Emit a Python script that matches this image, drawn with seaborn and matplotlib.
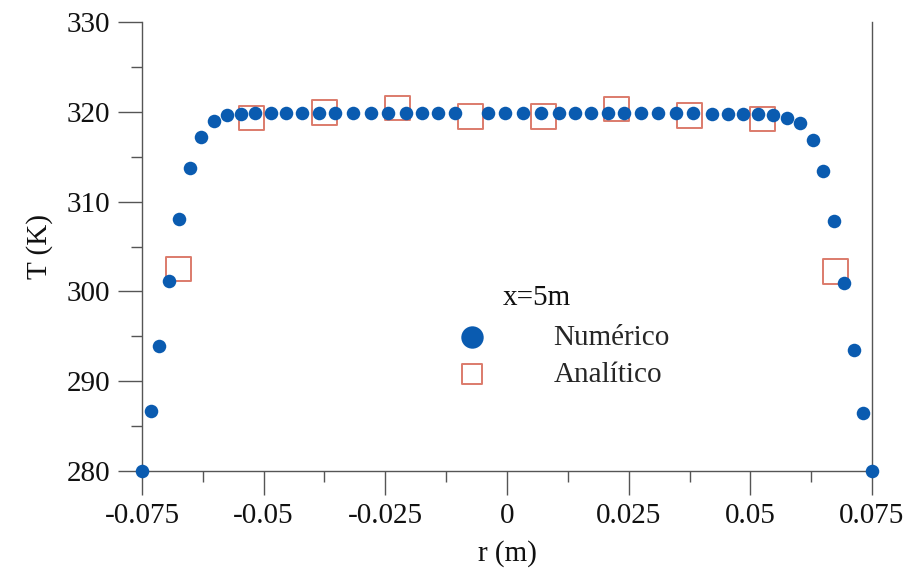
import matplotlib
matplotlib.use("Agg")
import matplotlib.pyplot as plt
import seaborn as sns
import pandas as pd
from matplotlib.ticker import MultipleLocator, FixedLocator

# ---- data ----
r_num = [-0.075, -0.0731, -0.0715, -0.0694, -0.0674, -0.0651, -0.0629, -0.0602,
         -0.0575, -0.0547, -0.0518, -0.0485, -0.0454, -0.0421, -0.0386, -0.0353,
         -0.0316, -0.0279, -0.0245, -0.0208, -0.0175, -0.0142, -0.0107, -0.0039,
         -0.0004, 0.0033, 0.0070, 0.0107, 0.0140, 0.0173, 0.0208, 0.0240,
         0.0275, 0.0310, 0.0347, 0.0382, 0.0421, 0.0454, 0.0485, 0.0516,
         0.0547, 0.0575, 0.0602, 0.0629, 0.0649, 0.0672, 0.0692, 0.0713,
         0.0731, 0.075]
T_num = [280.0, 286.7, 293.9, 301.2, 308.1, 313.7, 317.2, 319.0,
         319.6, 319.8, 319.9, 319.9, 319.9, 319.9, 319.9, 319.9,
         319.9, 319.9, 319.9, 319.9, 319.9, 319.9, 319.9, 319.9,
         319.9, 319.9, 319.9, 319.9, 319.9, 319.9, 319.9, 319.9,
         319.9, 319.9, 319.9, 319.9, 319.8, 319.8, 319.7, 319.7,
         319.6, 319.3, 318.7, 316.9, 313.4, 307.8, 300.9, 293.5,
         286.5, 280.0]
r_ana = [-0.0675, -0.0525, -0.0375, -0.0225, -0.0075, 0.0075, 0.0225, 0.0375, 0.0525, 0.0675]
T_ana = [302.5, 319.3, 319.9, 320.4, 319.5, 319.5, 320.3, 319.6, 319.2, 302.2]

x_ticks = [-0.075, -0.05, -0.025, 0, 0.025, 0.05, 0.075]
x_tick_labels = ["-0.075", "-0.05", "-0.025", "0", "0.025", "0.05", "0.075"]
y_ticks = [280, 290, 300, 310, 320, 330]
y_tick_labels = ["280", "290", "300", "310", "320", "330"]

legend_title = "x=5m"
label_num = "Numérico"
label_ana = "Analítico"

df_num = pd.DataFrame({"r": r_num, "T": T_num})
df_ana = pd.DataFrame({"r": r_ana, "T": T_ana})

sns.set_style("white")
plt.rcParams["font.family"] = ["Liberation Serif", "DejaVu Serif"]
plt.rcParams["mathtext.default"] = "regular"

fig = plt.figure(figsize=(9.06, 5.82), dpi=100)
ax = fig.add_axes([0.1567, 0.1907, 0.8058, 0.7715])

blue = "#0a5bb0"
red = "#dc7b6b"

sns.scatterplot(data=df_ana, x="r", y="T", ax=ax, marker="s", s=310,
                color=red, linewidth=1.4, label=label_ana, zorder=3)
col_ana = ax.collections[-1]
col_ana.set_facecolor("none")
col_ana.set_edgecolor(red)
col_ana.set_clip_on(False)

sns.scatterplot(data=df_num, x="r", y="T", ax=ax, marker="o", s=95,
                color=blue, edgecolor=blue, linewidth=0, label=label_num, zorder=4)
ax.collections[-1].set_clip_on(False)

ax.set_xlim(-0.075, 0.075)
ax.set_ylim(280, 330)
ax.xaxis.set_major_locator(FixedLocator(x_ticks))
ax.set_xticklabels(x_tick_labels)
ax.xaxis.set_minor_locator(MultipleLocator(0.0125))
ax.yaxis.set_major_locator(FixedLocator(y_ticks))
ax.set_yticklabels(y_tick_labels)
ax.yaxis.set_minor_locator(MultipleLocator(5))

spine_col = "#555555"
for s in ["left", "bottom", "right"]:
    ax.spines[s].set_visible(True)
    ax.spines[s].set_color(spine_col)
    ax.spines[s].set_linewidth(1.0)
ax.spines["top"].set_visible(False)

ax.tick_params(axis="both", which="major", direction="out", length=17, width=1.0,
               color=spine_col, labelsize=21, pad=6, labelcolor="#111111")
ax.tick_params(axis="both", which="minor", direction="out", length=8, width=1.0,
               color=spine_col)
ax.tick_params(axis="y", which="both", left=True, right=False)
ax.tick_params(axis="x", which="both", bottom=True, top=False)

ax.set_xlabel("r (m)", fontsize=21, color="#111111", labelpad=8)
ax.set_ylabel("T (K)", fontsize=21, color="#111111", labelpad=10)

handles, labels = ax.get_legend_handles_labels()
order = [labels.index(label_num), labels.index(label_ana)]
leg = ax.legend([handles[i] for i in order], [labels[i] for i in order],
                frameon=False, fontsize=21,
                loc="upper left", bbox_to_anchor=(0.396, 0.352),
                handletextpad=1.8, labelspacing=0.35, borderaxespad=0.0)
hs = leg.legend_handles
hs[0].set_sizes([260])
hs[0].set_facecolor(blue)
hs[0].set_edgecolor(blue)
hs[1].set_sizes([200])
hs[1].set_facecolor("none")
hs[1].set_edgecolor(red)

ax.text(0.4945, 0.385, legend_title, transform=ax.transAxes, fontsize=21,
        color="#111111", ha="left", va="center")

fig.savefig("out.png", dpi=100)
